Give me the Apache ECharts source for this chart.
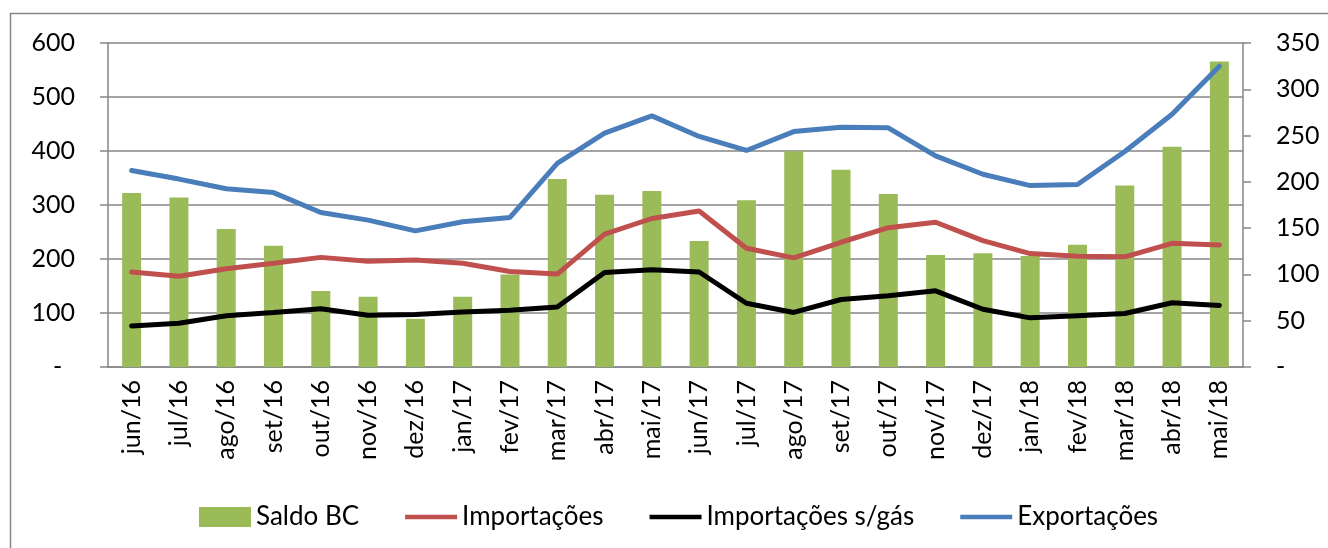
<!DOCTYPE html>
<html>
<head>
<meta charset="utf-8">
<script src="https://cdn.jsdelivr.net/npm/echarts@6/dist/echarts.min.js"></script>
<style>
  html, body { margin: 0; padding: 0; background: #fff; }
  #chart { width: 1328px; height: 548px; }
</style>
</head>
<body>
<div id="chart"></div>
<script>
const months = ['jun/16', 'jul/16', 'ago/16', 'set/16', 'out/16', 'nov/16', 'dez/16', 'jan/17',
  'fev/17', 'mar/17', 'abr/17', 'mai/17', 'jun/17', 'jul/17', 'ago/17', 'set/17', 'out/17',
  'nov/17', 'dez/17', 'jan/18', 'fev/18', 'mar/18', 'abr/18', 'mai/18']

// Saldo BC (eixo direito)
const saldoBC = [188, 183, 149, 131, 82, 76, 52, 76, 100, 203, 186, 190, 136, 180, 233, 213,
  187, 121, 123, 120, 132, 196, 238, 330]
// eixo esquerdo
const importacoes = [176, 168, 182, 192, 203, 196, 198, 192, 177, 172, 246, 275, 289, 220,
  202, 231, 258, 268, 234, 210, 205, 204, 229, 226]
const importacoesSemGas = [76, 81, 95, 101, 108, 96, 97, 102, 105, 111, 175, 180, 176, 118,
  101, 125, 132, 141, 107, 91, 95, 99, 119, 114]
const exportacoes = [364, 348, 330, 323, 286, 272, 252, 269, 277, 377, 433, 465, 427, 401,
  436, 444, 443, 391, 357, 336, 338, 399, 468, 557]

const font = 'Lato'
const fontSize = 25
const axisGrey = '#868686'
const lineIcon = 'path://M0,0 L100,0 L100,9 L0,9 Z'

const chart = echarts.init(document.getElementById('chart'))
chart.setOption({
  animation: false,
  textStyle: { fontFamily: font },
  graphic: [{
    type: 'rect',
    shape: { x: 10.5, y: 13.5, width: 1400, height: 600 },
    style: { fill: 'none', stroke: axisGrey, lineWidth: 1.5 }
  }],
  grid: { left: 108, right: 85, top: 43, bottom: 181 },
  legend: {
    left: 194,
    top: 499,
    itemWidth: 52,
    itemHeight: 20,
    itemGap: 46,
    textStyle: { fontFamily: font, fontSize: 26, color: '#000' },
    data: [
      { name: 'Saldo BC', icon: 'rect' },
      { name: 'Importações', icon: lineIcon },
      { name: 'Importações s/gás', icon: lineIcon },
      { name: 'Exportações', icon: lineIcon }
    ]
  },
  xAxis: {
    type: 'category',
    data: months,
    axisLine: { lineStyle: { color: axisGrey, width: 1.5 } },
    axisTick: { length: 8, lineStyle: { color: axisGrey, width: 1.5 } },
    axisLabel: { rotate: 90, margin: 13, fontSize: fontSize, color: '#000', fontFamily: font, interval: 0 }
  },
  yAxis: [
    {
      type: 'value',
      min: 0,
      max: 600,
      interval: 100,
      axisLine: { show: true, lineStyle: { color: axisGrey, width: 1.5 } },
      axisTick: { show: true, length: 8, lineStyle: { color: axisGrey, width: 1.5 } },
      splitLine: { lineStyle: { color: axisGrey, width: 1.5 } },
      axisLabel: {
        margin: 33, fontSize: fontSize, color: '#000', fontFamily: font,
        formatter: v => (v === 0 ? '-  ' : String(v))
      }
    },
    {
      type: 'value',
      min: 0,
      max: 350,
      interval: 50,
      position: 'right',
      axisLine: { show: true, lineStyle: { color: axisGrey, width: 1.5 } },
      axisTick: { show: true, length: 8, lineStyle: { color: axisGrey, width: 1.5 } },
      splitLine: { show: false },
      axisLabel: {
        margin: 33, fontSize: fontSize, color: '#000', fontFamily: font,
        formatter: v => (v === 0 ? '-' : String(v))
      }
    }
  ],
  series: [
    {
      name: 'Saldo BC',
      type: 'bar',
      yAxisIndex: 1,
      barWidth: 19,
      itemStyle: { color: '#9bbb59' },
      data: saldoBC
    },
    {
      name: 'Importações',
      type: 'line',
      showSymbol: false,
      symbol: 'none',
      lineStyle: { color: '#c0504d', width: 5, cap: 'round' },
      itemStyle: { color: '#c0504d' },
      data: importacoes
    },
    {
      name: 'Importações s/gás',
      type: 'line',
      showSymbol: false,
      symbol: 'none',
      lineStyle: { color: '#000000', width: 5, cap: 'round' },
      itemStyle: { color: '#000000' },
      data: importacoesSemGas
    },
    {
      name: 'Exportações',
      type: 'line',
      showSymbol: false,
      symbol: 'none',
      lineStyle: { color: '#4a7ebb', width: 5, cap: 'round' },
      itemStyle: { color: '#4a7ebb' },
      data: exportacoes
    }
  ]
})
</script>
</body>
</html>
